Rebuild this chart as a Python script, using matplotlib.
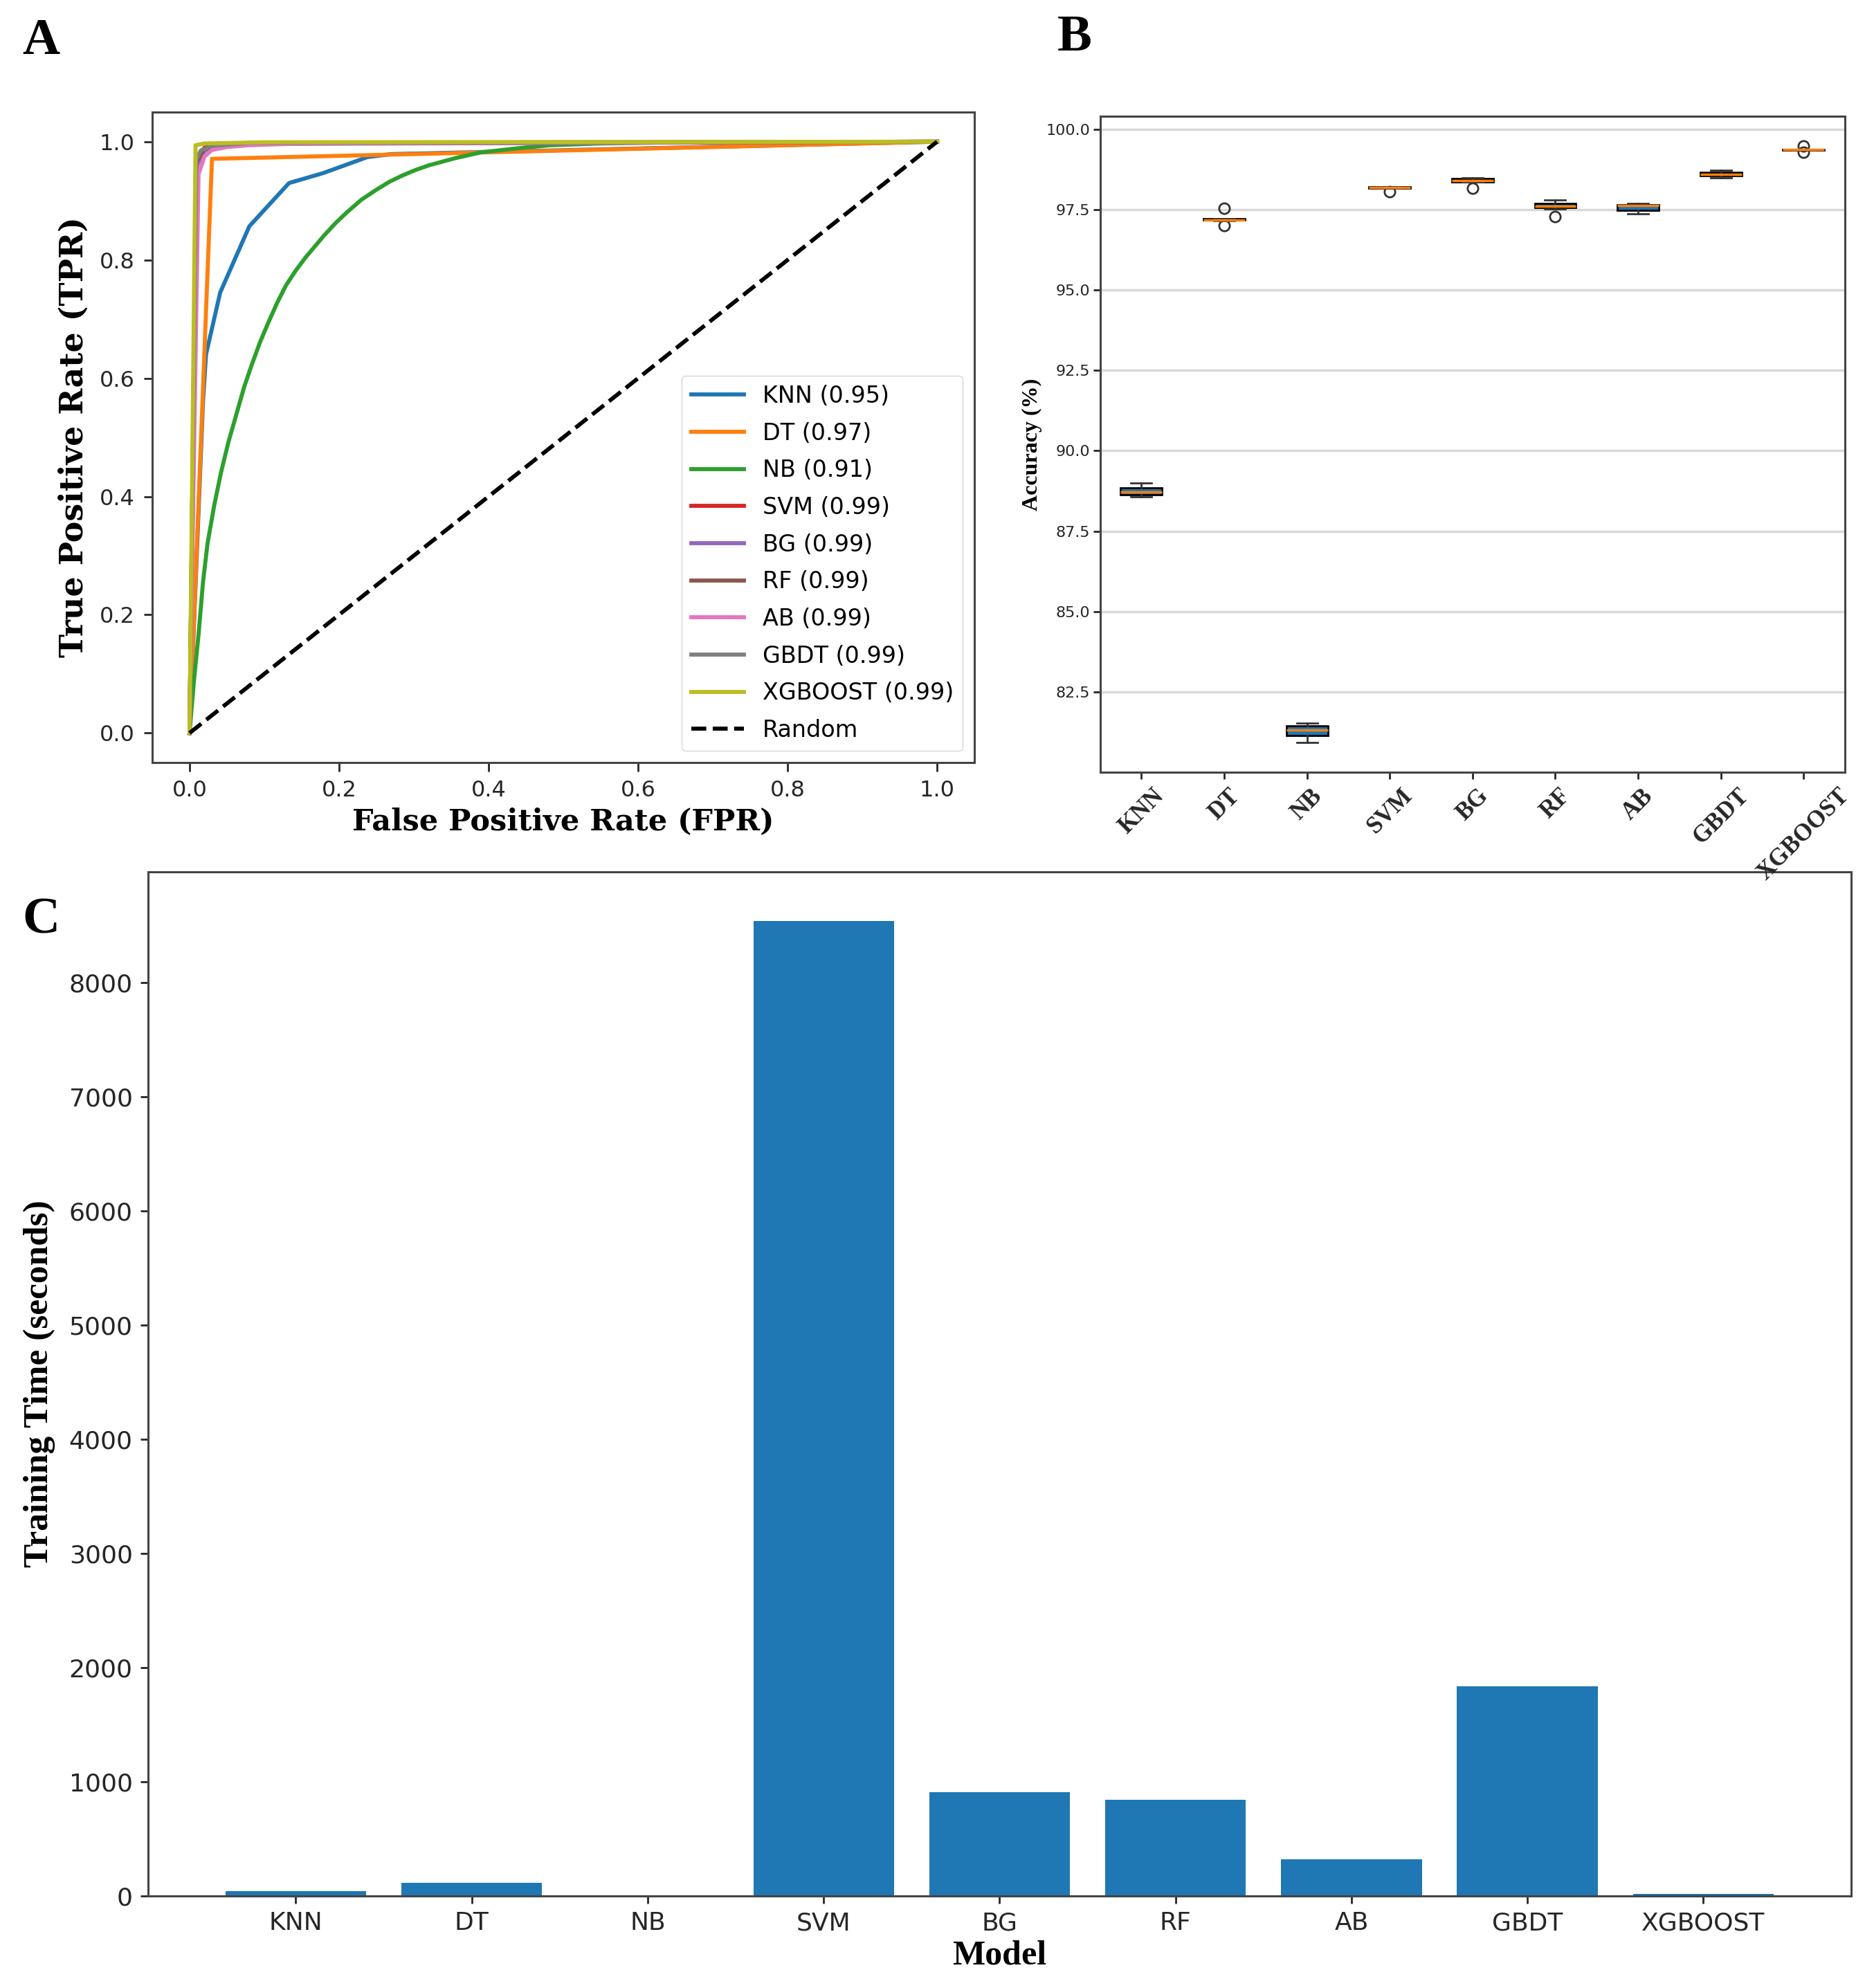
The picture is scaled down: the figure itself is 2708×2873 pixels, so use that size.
import numpy as np
import matplotlib
matplotlib.use("Agg")
import matplotlib.pyplot as plt

models = ["KNN", "DT", "NB", "SVM", "BG", "RF", "AB", "GBDT", "XGBOOST"]
auc = [0.95, 0.97, 0.91, 0.99, 0.99, 0.99, 0.99, 0.99, 0.99]

# ROC curve points
roc_fpr = {
    "KNN": [0, 0.018, 0.022, 0.041, 0.080, 0.133, 0.179, 0.238, 0.27, 1.0],
    "DT": [0, 0.030, 1.0],
    "NB": [0, 0.006, 0.012, 0.018, 0.024, 0.033, 0.042, 0.052, 0.064, 0.073, 0.083,
           0.094, 0.105, 0.117, 0.129, 0.142, 0.155, 0.167, 0.179, 0.195, 0.21, 0.23,
           0.249, 0.267, 0.285, 0.302, 0.320, 0.355, 0.390, 0.44, 0.482, 0.55, 0.65, 1.0],
    "SVM": [0, 0.009, 0.02, 0.05, 1.0],
    "BG": [0, 0.010, 0.02, 0.05, 1.0],
    "RF": [0, 0.009, 0.02, 0.06, 1.0],
    "AB": [0, 0.012, 0.02, 0.03, 0.05, 0.08, 0.15, 1.0],
    "GBDT": [0, 0.009, 0.015, 0.03, 0.08, 1.0],
    "XGBOOST": [0, 0.008, 0.02, 0.1, 1.0],
}
roc_tpr = {
    "KNN": [0, 0.56, 0.64, 0.745, 0.857, 0.930, 0.947, 0.974, 0.979, 1.0],
    "DT": [0, 0.971, 1.0],
    "NB": [0, 0.09, 0.166, 0.255, 0.320, 0.385, 0.44, 0.492, 0.545, 0.585, 0.622,
           0.66, 0.693, 0.727, 0.757, 0.782, 0.804, 0.822, 0.840, 0.862, 0.880, 0.902,
           0.918, 0.932, 0.943, 0.952, 0.960, 0.972, 0.982, 0.989, 0.994, 0.997, 0.999, 1.0],
    "SVM": [0, 0.970, 0.990, 0.997, 1.0],
    "BG": [0, 0.960, 0.985, 0.996, 1.0],
    "RF": [0, 0.965, 0.988, 0.997, 1.0],
    "AB": [0, 0.945, 0.975, 0.986, 0.991, 0.994, 0.997, 1.0],
    "GBDT": [0, 0.970, 0.985, 0.993, 0.998, 1.0],
    "XGBOOST": [0, 0.994, 0.997, 0.999, 1.0],
}

# cross-validation accuracies (%)
cv_acc = {
    "KNN": [88.57, 88.60, 88.62, 88.66, 88.70, 88.75, 88.80, 88.86, 88.88, 89.00],
    "DT": [97.00, 97.16, 97.17, 97.18, 97.19, 97.19, 97.20, 97.22, 97.23, 97.55],
    "NB": [80.93, 81.10, 81.13, 81.20, 81.30, 81.34, 81.40, 81.46, 81.49, 81.52],
    "SVM": [98.07, 98.16, 98.17, 98.18, 98.19, 98.19, 98.20, 98.21, 98.21, 98.22],
    "BG": [98.18, 98.36, 98.37, 98.38, 98.40, 98.41, 98.45, 98.48, 98.49, 98.50],
    "RF": [97.29, 97.53, 97.55, 97.58, 97.60, 97.62, 97.66, 97.71, 97.75, 97.80],
    "AB": [97.37, 97.44, 97.46, 97.52, 97.62, 97.63, 97.64, 97.65, 97.66, 97.69],
    "GBDT": [98.50, 98.52, 98.54, 98.57, 98.59, 98.61, 98.64, 98.67, 98.70, 98.72],
    "XGBOOST": [99.28, 99.35, 99.36, 99.36, 99.37, 99.37, 99.37, 99.38, 99.38, 99.48],
}

# training time in seconds, panel C
train_time = [40, 115, 3, 8540, 909, 840, 323, 1835, 20]

serif_bold = dict(family="Liberation Serif", weight="bold")
spine_col = "#444444"
tick_col = "#262626"

fig = plt.figure(figsize=(27.08, 28.73), dpi=100)

# ---- A: ROC curves
axA = fig.add_axes([0.0812, 0.6164, 0.4388, 0.3272])
for name, a in zip(models, auc):
    axA.plot(roc_fpr[name], roc_tpr[name], lw=4.2, label=f"{name} ({a:.2f})")
axA.plot([0, 1], [0, 1], color="black", ls="--", lw=4.2, label="Random")
axA.set_xticks([0, 0.2, 0.4, 0.6, 0.8, 1.0])
axA.set_yticks([0, 0.2, 0.4, 0.6, 0.8, 1.0])
axA.tick_params(labelsize=23, length=9, width=2, pad=9, colors=tick_col)
axA.set_xlabel("False Positive Rate (FPR)", family="DejaVu Serif", weight="bold",
               fontsize=31, labelpad=6)
axA.set_ylabel("True Positive Rate (TPR)", family="DejaVu Serif", weight="bold",
               fontsize=33, labelpad=10)
axA.legend(loc="lower right", fontsize=24, handlelength=2.3, labelspacing=0.62)

# ---- B: accuracy boxplots
axB = fig.add_axes([0.587, 0.6116, 0.3975, 0.3299])
axB.set_zorder(3)
axB.boxplot([cv_acc[m] for m in models], patch_artist=True, widths=0.5,
            boxprops=dict(facecolor="#1f77b4", edgecolor="black", lw=2),
            medianprops=dict(color="#ff7f0e", lw=2.5),
            whiskerprops=dict(color="#333333", lw=2),
            capprops=dict(color="#333333", lw=2),
            flierprops=dict(marker="o", markerfacecolor="none",
                            markeredgecolor="#333333", markersize=11, markeredgewidth=2))
axB.set_yticks(np.arange(82.5, 100.1, 2.5))
axB.yaxis.grid(True, color="#d9d9d9", lw=2.5)
axB.set_axisbelow(True)
axB.set_xticks(range(1, len(models) + 1))
axB.set_xticklabels(models, rotation=45, fontdict=dict(fontsize=25, **serif_bold))
axB.tick_params(axis="y", labelsize=16, colors=tick_col, length=7, width=2)
axB.tick_params(axis="x", length=7, width=2, colors=tick_col, pad=6)
axB.set_ylabel("Accuracy (%)", fontsize=23, **serif_bold)

# ---- C: training time bars
axC = fig.add_axes([0.079, 0.0463, 0.9088, 0.5151])
axC.bar(models, train_time, color="#1f77b4", width=0.8)
axC.tick_params(labelsize=26, length=8, width=2, pad=8, colors=tick_col)
axC.set_xlabel("Model", fontsize=36, labelpad=5, **serif_bold)
axC.set_ylabel("Training Time (seconds)", fontsize=37, labelpad=14, **serif_bold)

for ax in (axA, axB, axC):
    for s in ax.spines.values():
        s.set_color(spine_col)
        s.set_linewidth(2.2)

fig.text(0.022, 0.979, "A", fontsize=54, ha="center", va="center", **serif_bold)
fig.text(0.5735, 0.981, "B", fontsize=54, ha="center", va="center", **serif_bold)
fig.text(0.0218, 0.537, "C", fontsize=54, ha="center", va="center", **serif_bold)

fig.savefig("out.png", dpi=100)
